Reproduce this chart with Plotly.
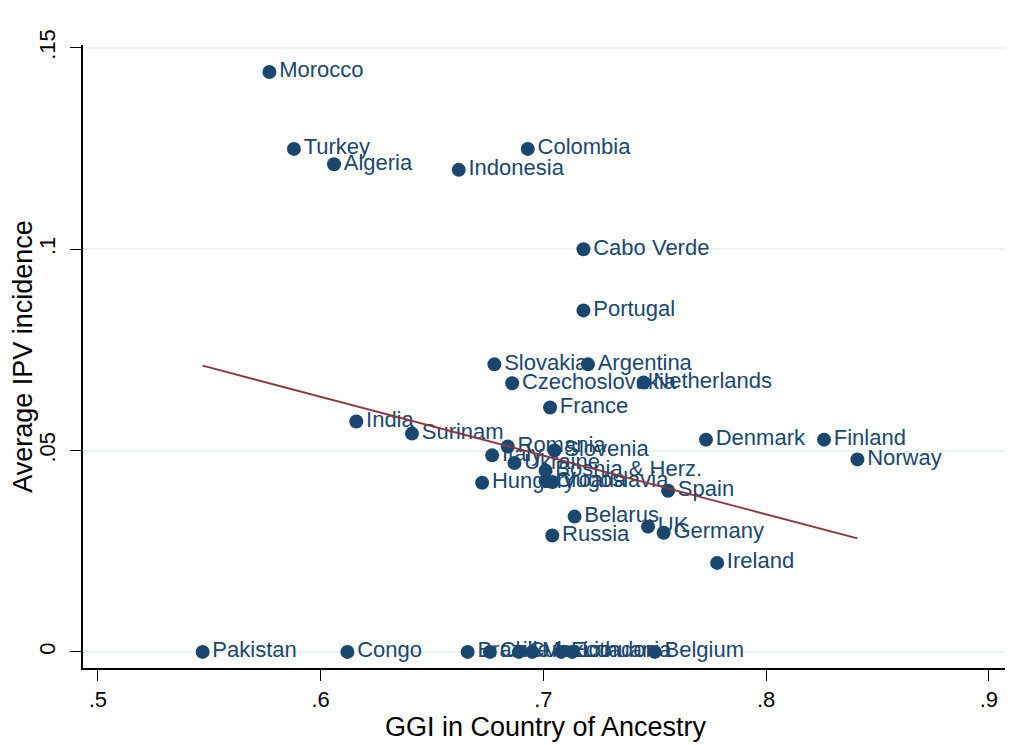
import numpy as np
import plotly.graph_objects as go

countries = ["Morocco", "Turkey", "Algeria", "Indonesia", "Colombia", "Cabo Verde", "Portugal",
             "Slovakia", "Argentina", "Czechoslovakia", "Netherlands", "France", "India", "Surinam",
             "Denmark", "Finland", "Norway", "Romania", "Slovenia", "Italy", "Ukraine",
             "Bosnia & Herz.", "Croatia", "Yugoslavia", "Hungary", "Spain", "Belarus", "UK",
             "Germany", "Russia", "Ireland", "Pakistan", "Congo", "Brazil", "Chile", "Cuba",
             "Mexico", "Ecuador", "Lithuania", "Belgium"]
ggi = [0.577, 0.588, 0.606, 0.662, 0.693, 0.718, 0.718,
       0.678, 0.720, 0.686, 0.745, 0.703, 0.616, 0.641,
       0.773, 0.826, 0.841, 0.684, 0.705, 0.677, 0.687,
       0.701, 0.701, 0.704, 0.6725, 0.756, 0.714, 0.747,
       0.754, 0.704, 0.778, 0.547, 0.612, 0.666, 0.676, 0.689,
       0.695, 0.708, 0.713, 0.750]
ipv = [0.1440, 0.1249, 0.1211, 0.1197, 0.1249, 0.1000, 0.0848,
       0.0714, 0.0714, 0.0667, 0.0669, 0.0607, 0.0572, 0.0542,
       0.0527, 0.0527, 0.0478, 0.0510, 0.0500, 0.0488, 0.0469,
       0.0450, 0.0424, 0.0422, 0.0420, 0.0400, 0.0336, 0.0311,
       0.0296, 0.0289, 0.0221, 0.0, 0.0, 0.0, 0.0, 0.0,
       0.0, 0.0, 0.0, 0.0]

x_ticks = [0.5, 0.6, 0.7, 0.8, 0.9]
x_tick_labels = [".5", ".6", ".7", ".8", ".9"]
y_ticks = [0, 0.05, 0.1, 0.15]
y_tick_labels = ["0", ".05", ".1", ".15"]

navy = "#1a476f"
maroon = "#90353b"
font_family = "Liberation Sans, Arial, sans-serif"

# linear fit computed from the data
slope, intercept = np.polyfit(ggi, ipv, 1)
fit_x = np.array([min(ggi), max(ggi)])
fit_y = intercept + slope * fit_x

fig = go.Figure()
fig.add_trace(go.Scatter(
    x=ggi, y=ipv, mode="markers+text", text=countries,
    textposition="middle right",
    textfont=dict(family=font_family, size=22, color=navy),
    marker=dict(color=navy, size=14, line=dict(width=0)),
    cliponaxis=False, showlegend=False, hoverinfo="text"))
fig.add_trace(go.Scatter(
    x=fit_x, y=fit_y, mode="lines",
    line=dict(color=maroon, width=1.8), showlegend=False))

fig.update_layout(
    width=1005, height=737,
    margin=dict(l=75, r=5, t=37, b=77, autoexpand=False),
    paper_bgcolor="white", plot_bgcolor="white",
    font=dict(family=font_family, color="black"),
    xaxis=dict(range=[0.4933, 0.9086], tickvals=x_ticks, ticktext=x_tick_labels,
               showgrid=False, zeroline=False, showline=True, linecolor="black", linewidth=1.5,
               ticks="outside", ticklen=11, tickwidth=1.3, tickcolor="black",
               tickfont=dict(size=22, family=font_family),
               title=dict(text="GGI in Country of Ancestry", font=dict(size=27, family=font_family), standoff=3)),
    yaxis=dict(range=[-0.004, 0.1507], tickvals=y_ticks, ticktext=y_tick_labels, tickangle=-90,
               showgrid=True, gridcolor="#eaf2f3", gridwidth=1.5, zeroline=False,
               showline=True, linecolor="black", linewidth=1.5,
               ticks="outside", ticklen=11, tickwidth=1.3, tickcolor="black",
               ticklabelstandoff=6,
               tickfont=dict(size=22, family=font_family),
               title=dict(text="Average IPV incidence", font=dict(size=27, family=font_family), standoff=2)),
)

fig.write_html("out.html")
